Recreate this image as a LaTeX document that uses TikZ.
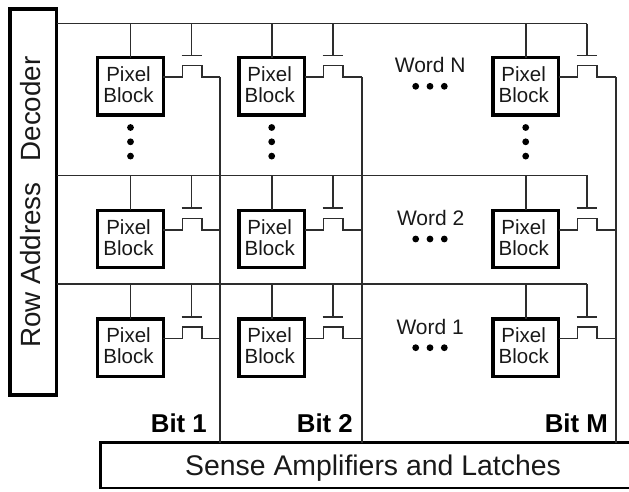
\documentclass[tikz,border=0pt]{standalone}
\usepackage{fontspec}
\setmainfont{Liberation Sans}
\usepackage{xcolor}
\usepackage{tikz}
\usetikzlibrary{
  positioning
}
\definecolor{mywire}{RGB}{45,45,45}
\definecolor{myink}{RGB}{25,25,25}
\newcommand{\pixelname}{\hspace*{-4pt}\raisebox{-6.6pt}[0pt][0pt]{\begin{tabular}{@{}c@{}}Pixel\\Block\end{tabular}}}
\tikzset{
  pixelblock/.style={
    rectangle, draw=black, fill=white, line width=3.3pt, outer sep=0pt,
    minimum width=65.6pt, minimum height=57.4pt, inner sep=0pt,
    text=myink, font=\fontsize{20.5}{21}\selectfont
  },
  decoder/.style={
    rectangle, draw=black, line width=3.3pt, outer sep=0pt,
    minimum width=46.6pt, minimum height=386pt, inner sep=0pt,
    text=myink, font=\fontsize{27.8}{30}\selectfont
  },
  sensebox/.style={
    rectangle, draw=black, line width=2.5pt, outer sep=0pt,
    minimum width=545.4pt, minimum height=45.5pt, inner sep=0pt,
    text=myink, font=\fontsize{28.4}{30}\selectfont
  },
  wordlabel/.style={inner sep=0pt, text=myink, font=\fontsize{21}{23}\selectfont},
  bitlabel/.style={inner sep=0pt, anchor=base east, yshift=10.5pt,
    text=black, font=\fontsize{25.8}{28}\selectfont\bfseries},
  wire/.style={draw=mywire, line width=1.6pt},
  gatebar/.style={draw=mywire, line width=1.8pt},
}
\begin{document}
\begin{tikzpicture}[x=1pt, y=1pt]
		\useasboundingbox (0,0) rectangle (629,491);

		%% ── Pixel blocks ──
		\node[pixelblock] (p11) at (130.5,404.7) {\pixelname};
		\node[pixelblock, right=75.6pt of p11]  (p12) {\pixelname};
		\node[pixelblock, right=188.4pt of p12] (p13) {\pixelname};

		\node[pixelblock, below=95.3pt of p11] (p21) {\pixelname};
		\node[pixelblock, below=95.3pt of p12] (p22) {\pixelname};
		\node[pixelblock, below=95.3pt of p13] (p23) {\pixelname};

		\node[pixelblock, below=51.3pt of p21] (p31) {\pixelname};
		\node[pixelblock, below=51.3pt of p22] (p32) {\pixelname};
		\node[pixelblock, below=51.3pt of p23] (p33) {\pixelname};

		%% ── Decoder and sense amplifiers ──
		\node[decoder] (dec) at (33.3,289)
		{\hspace*{-5pt}\rotatebox{90}{Row Address\hspace{0.75em}Decoder}};
		\node[sensebox] (sense) at (373,25.7)
		{\raisebox{-10.4pt}[0pt][0pt]{Sense Amplifiers and Latches}};

		%% ── Named points: word lines, gates, bit lines ──
		\coordinate (wN) at ([yshift=34pt]p11.north);
		\coordinate (w2) at ([yshift=35pt]p21.north);
		\coordinate (w1) at ([yshift=35pt]p31.north);
		\coordinate (g11) at ([xshift=61pt, yshift=30.8pt]p11.center);
		\coordinate (g12) at ([xshift=61pt, yshift=30.8pt]p12.center);
		\coordinate (g13) at ([xshift=61pt, yshift=30.8pt]p13.center);
		\coordinate (g21) at ([xshift=61pt, yshift=30.8pt]p21.center);
		\coordinate (g22) at ([xshift=61pt, yshift=30.8pt]p22.center);
		\coordinate (g23) at ([xshift=61pt, yshift=30.8pt]p23.center);
		\coordinate (g31) at ([xshift=61pt, yshift=30.8pt]p31.center);
		\coordinate (g32) at ([xshift=61pt, yshift=30.8pt]p32.center);
		\coordinate (g33) at ([xshift=61pt, yshift=30.8pt]p33.center);
		\coordinate (b1) at ([xshift=89.5pt, yshift=9.3pt]p11.center);
		\coordinate (b2) at ([xshift=90.3pt, yshift=9.3pt]p12.center);
		\coordinate (bM) at ([xshift=90.3pt, yshift=9.3pt]p13.center);

		%% ── Word lines ──
		\draw[wire] (dec.east |- wN) -- (wN -| g13);
		\draw[wire] (dec.east |- w2) -- (w2 -| g13);
		\draw[wire] (dec.east |- w1) -- (w1 -| g13);

		%% ── Bit lines ──
		\draw[wire] (b1) -- (b1 |- sense.north);
		\draw[wire] (b2) -- (b2 |- sense.north);
		\draw[wire] (bM) -- (bM |- sense.north);

		%% ── Row N ──
		\draw[wire] (p11.north) -- (p11.north |- wN);
		\draw[wire] (p12.north) -- (p12.north |- wN);
		\draw[wire] (p13.north) -- (p13.north |- wN);
		\draw[wire] (g11 |- wN) -- (g11);
		\draw[wire] (g12 |- wN) -- (g12);
		\draw[wire] (g13 |- wN) -- (g13);
		\draw[gatebar] ([xshift=-10pt]g11) -- ([xshift=10pt]g11);
		\draw[gatebar] ([xshift=-10pt]g12) -- ([xshift=10pt]g12);
		\draw[gatebar] ([xshift=-10pt]g13) -- ([xshift=10pt]g13);
		\draw[wire] ([yshift=9.3pt]p11.east) -- ++(19,0) -- ++(0,11.3) -- ++(19.5,0) -- ++(0,-11.3) -- ++(18.2,0);
		\draw[wire] ([yshift=9.3pt]p12.east) -- ++(19,0) -- ++(0,11.3) -- ++(19.5,0) -- ++(0,-11.3) -- ++(19,0);
		\draw[wire] ([yshift=9.3pt]p13.east) -- ++(19,0) -- ++(0,11.3) -- ++(19.5,0) -- ++(0,-11.3) -- ++(19,0);

		%% ── Row 2 ──
		\draw[wire] (p21.north) -- (p21.north |- w2);
		\draw[wire] (p22.north) -- (p22.north |- w2);
		\draw[wire] (p23.north) -- (p23.north |- w2);
		\draw[wire] (g21 |- w2) -- (g21);
		\draw[wire] (g22 |- w2) -- (g22);
		\draw[wire] (g23 |- w2) -- (g23);
		\draw[gatebar] ([xshift=-10pt]g21) -- ([xshift=10pt]g21);
		\draw[gatebar] ([xshift=-10pt]g22) -- ([xshift=10pt]g22);
		\draw[gatebar] ([xshift=-10pt]g23) -- ([xshift=10pt]g23);
		\draw[wire] ([yshift=9.3pt]p21.east) -- ++(19,0) -- ++(0,11.3) -- ++(19.5,0) -- ++(0,-11.3) -- ++(18.2,0);
		\draw[wire] ([yshift=9.3pt]p22.east) -- ++(19,0) -- ++(0,11.3) -- ++(19.5,0) -- ++(0,-11.3) -- ++(19,0);
		\draw[wire] ([yshift=9.3pt]p23.east) -- ++(19,0) -- ++(0,11.3) -- ++(19.5,0) -- ++(0,-11.3) -- ++(19,0);

		%% ── Row 1 ──
		\draw[wire] (p31.north) -- (p31.north |- w1);
		\draw[wire] (p32.north) -- (p32.north |- w1);
		\draw[wire] (p33.north) -- (p33.north |- w1);
		\draw[wire] (g31 |- w1) -- (g31);
		\draw[wire] (g32 |- w1) -- (g32);
		\draw[wire] (g33 |- w1) -- (g33);
		\draw[gatebar] ([xshift=-10pt]g31) -- ([xshift=10pt]g31);
		\draw[gatebar] ([xshift=-10pt]g32) -- ([xshift=10pt]g32);
		\draw[gatebar] ([xshift=-10pt]g33) -- ([xshift=10pt]g33);
		\draw[wire] ([yshift=9.3pt]p31.east) -- ++(19,0) -- ++(0,11.3) -- ++(19.5,0) -- ++(0,-11.3) -- ++(18.2,0);
		\draw[wire] ([yshift=9.3pt]p32.east) -- ++(19,0) -- ++(0,11.3) -- ++(19.5,0) -- ++(0,-11.3) -- ++(19,0);
		\draw[wire] ([yshift=9.3pt]p33.east) -- ++(19,0) -- ++(0,11.3) -- ++(19.5,0) -- ++(0,-11.3) -- ++(19,0);

		%% ── Word labels ──
		\node[wordlabel] (wlN) at ([xshift=-95.5pt, yshift=21pt]p13.center) {Word N};
		\node[wordlabel] (wl2) at ([xshift=-95pt, yshift=21.5pt]p23.center) {Word 2};
		\node[wordlabel] (wl1) at ([xshift=-95.5pt, yshift=20.5pt]p33.center) {Word 1};

		%% ── Bit labels ──
		\node[bitlabel, xshift=-13pt] (bit1) at (b1 |- sense.north) {Bit 1};
		\node[bitlabel, xshift=-9pt]  (bit2) at (b2 |- sense.north) {Bit 2};
		\node[bitlabel, xshift=-8pt]  (bitM) at (bM |- sense.north) {Bit M};

		%% ── Ellipsis dots ──
		\fill ([yshift=-12.5pt]p11.south) circle (3.4) ++(0,-14.3) circle (3.4) ++(0,-14.3) circle (3.4);
		\fill ([yshift=-12.5pt]p12.south) circle (3.4) ++(0,-14.3) circle (3.4) ++(0,-14.3) circle (3.4);
		\fill ([yshift=-12.5pt]p13.south) circle (3.4) ++(0,-14.3) circle (3.4) ++(0,-14.3) circle (3.4);
		\fill ([xshift=-110pt]p13.center) circle (3.4) ++(14.3,0) circle (3.4) ++(14.3,0) circle (3.4);
		\fill ([xshift=-110pt]p23.center) circle (3.4) ++(14.3,0) circle (3.4) ++(14.3,0) circle (3.4);
		\fill ([xshift=-110pt]p33.center) circle (3.4) ++(14.3,0) circle (3.4) ++(14.3,0) circle (3.4);

	\end{tikzpicture}
\end{document}
